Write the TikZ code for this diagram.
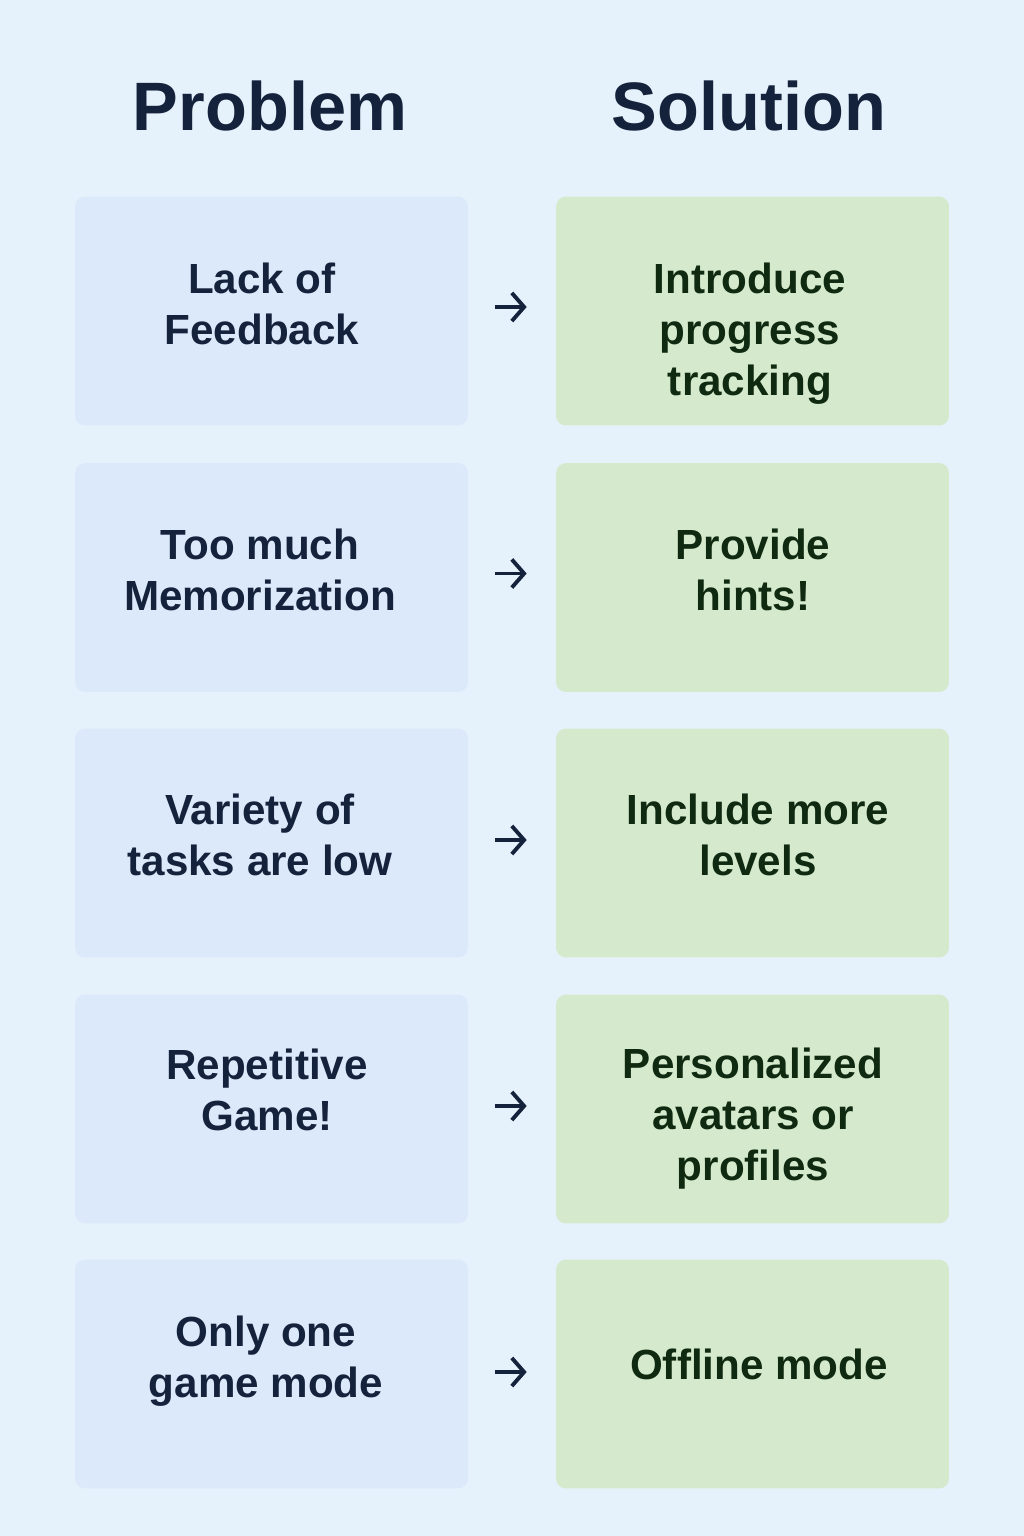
\documentclass[tikz,border=0pt]{standalone}
\usepackage{fontspec}
\setmainfont{Liberation Sans}
\usepackage{xcolor}
\definecolor{page-blue}{HTML}{E6F2FB}
\definecolor{prob-blue}{HTML}{DCE9FA}
\definecolor{sol-green}{HTML}{D5EACC}
\definecolor{navy-ink}{HTML}{15223C}
\definecolor{green-ink}{HTML}{102A12}
\usetikzlibrary{arrows.meta}

\begin{document}
\begin{tikzpicture}[x=0.02cm,y=-0.02cm,
	boxstyle/.style={rounded corners=0.2cm,minimum width=7.86cm,minimum height=4.58cm,inner sep=0pt},
	probbox/.style={boxstyle,fill=prob-blue},
	solbox/.style={boxstyle,fill=sol-green},
	probtxt/.style={align=center,text=navy-ink,font=\fontsize{24}{29}\selectfont\bfseries},
	soltxt/.style={align=center,text=green-ink,font=\fontsize{24}{29}\selectfont\bfseries},
	heading/.style={anchor=base,text=navy-ink,font=\fontsize{39}{44}\selectfont\bfseries},
	pointer/.style={-{Straight Barb[length=7pt,width=16pt]},line width=2.2pt,navy-ink,
		shorten <=0.54cm,shorten >=0.58cm}]
	
	\fill[page-blue] (0,0) rectangle (1024,1536);
	
	\node[heading] (hp) at (270,130) {Problem};
	\node[heading] (hs) at (749,130) {Solution};
	
	% left column
	\node[probbox] (p1) at (271.5,311) {};
	\node[probbox] (p2) at (271.5,577.5) {};
	\node[probbox] (p3) at (271.5,843) {};
	\node[probbox] (p4) at (271.5,1109) {};
	\node[probbox] (p5) at (271.5,1374) {};
	
	% right column
	\node[solbox] (s1) at (752.5,311) {};
	\node[solbox] (s2) at (752.5,577.5) {};
	\node[solbox] (s3) at (752.5,843) {};
	\node[solbox] (s4) at (752.5,1109) {};
	\node[solbox] (s5) at (752.5,1374) {};
	
	\node[probtxt] (tp1) at (262,304) {Lack of\\Feedback};
	\node[probtxt] (tp2) at (260,570) {Too much\\Memorization};
	\node[probtxt] (tp3) at (260,835) {Variety of\\tasks are low};
	\node[probtxt] (tp4) at (267,1090) {Repetitive\\Game!};
	\node[probtxt] (tp5) at (266,1361) {Only one\\game mode};
	
	\node[soltxt] (ts1) at (750,334) {Introduce\\progress\\tracking};
	\node[soltxt] (ts2) at (753,570) {Provide\\hints!};
	\node[soltxt] (ts3) at (758,835) {Include more\\levels};
	\node[soltxt] (ts4) at (753,1119) {Personalized\\avatars or\\profiles};
	\node[soltxt] (ts5) at (759,1364) {Offline mode};
	
	\draw[pointer] ([yshift=0.08cm]p1.east) -- ([yshift=0.08cm]s1.west);
	\draw[pointer] ([yshift=0.08cm]p2.east) -- ([yshift=0.08cm]s2.west);
	\draw[pointer] ([yshift=0.06cm]p3.east) -- ([yshift=0.06cm]s3.west);
	\draw[pointer] ([yshift=0.06cm]p4.east) -- ([yshift=0.06cm]s4.west);
	\draw[pointer] ([yshift=0.04cm]p5.east) -- ([yshift=0.04cm]s5.west);
	
\end{tikzpicture}
\end{document}
